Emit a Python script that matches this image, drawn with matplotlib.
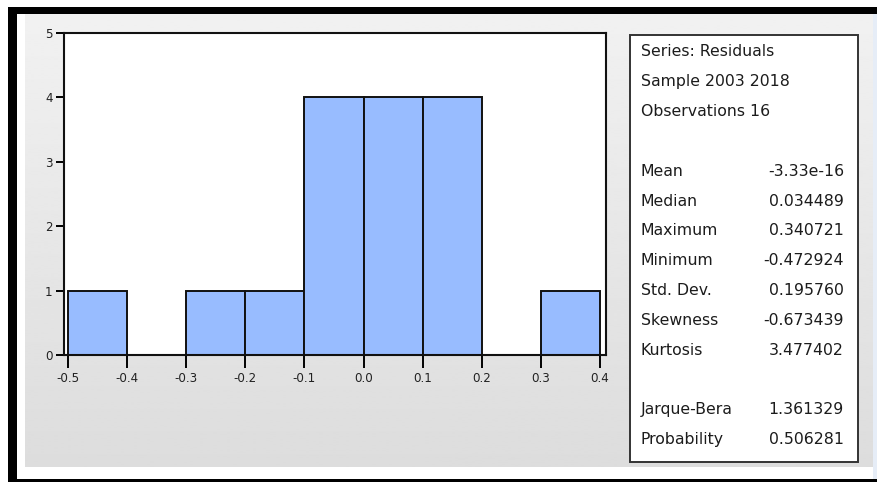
import numpy as np
import matplotlib.pyplot as plt
from matplotlib.patches import Rectangle

# histogram of residuals
bin_edges = [-0.5, -0.4, -0.3, -0.2, -0.1, 0.0, 0.1, 0.2, 0.3, 0.4]
counts = [1, 0, 1, 1, 4, 4, 4, 0, 1]
x_ticks = [-0.5, -0.4, -0.3, -0.2, -0.1, 0.0, 0.1, 0.2, 0.3, 0.4]
x_ticklabels = ['-0.5', '-0.4', '-0.3', '-0.2', '-0.1', '0.0', '0.1', '0.2', '0.3', '0.4']
y_ticks = [0, 1, 2, 3, 4, 5]

# descriptive statistics panel
header_lines = ['Series: Residuals', 'Sample 2003 2018', 'Observations 16']
stat_names = ['Mean', 'Median', 'Maximum', 'Minimum', 'Std. Dev.', 'Skewness', 'Kurtosis']
stat_values = ['-3.33e-16', '0.034489', '0.340721', '-0.472924', '0.195760', '-0.673439', '3.477402']
test_names = ['Jarque-Bera', 'Probability']
test_values = ['1.361329', '0.506281']

W, H = 877, 482
plt.rcParams['font.family'] = ['DejaVu Sans']

fig = plt.figure(figsize=(W / 100, H / 100), dpi=100, facecolor='white')

# frame and grey panel, drawn in pixel units
bg = fig.add_axes([0, 0, 1, 1])
bg.axis('off')
bg.add_patch(Rectangle((8, 7), W - 8, H - 7, color='black', lw=0, zorder=1))
bg.add_patch(Rectangle((17, 14), W - 17, 465, color='white', lw=0, zorder=1))
bg.add_patch(Rectangle((873, 14), 4, 465, color='#e6edf7', lw=0, zorder=1))
grad = np.linspace(0.945, 0.865, 256).reshape(-1, 1)
bg.imshow(grad, cmap='gray', vmin=0, vmax=1, aspect='auto',
          extent=(25, 873, 467, 14), interpolation='bilinear', zorder=2)
bg.set_xlim(0, W)
bg.set_ylim(H, 0)

# stats box
bg.add_patch(Rectangle((630, 35), 228, 427, facecolor='white',
                       edgecolor='#333333', lw=1.4, zorder=3))
tkw = dict(fontsize=11.3, color='#1c1c1c', va='center', zorder=4)
y = 52
for line in header_lines:
    bg.text(641, y, line, ha='left', **tkw)
    y += 29.8
y += 29.8
for name, val in zip(stat_names, stat_values):
    bg.text(641, y, name, ha='left', **tkw)
    bg.text(844, y, val, ha='right', **tkw)
    y += 29.8
y += 29.8
for name, val in zip(test_names, test_values):
    bg.text(641, y, name, ha='left', **tkw)
    bg.text(844, y, val, ha='right', **tkw)
    y += 29.8

# histogram
ax = fig.add_axes([64 / W, (H - 355) / H, (606 - 64) / W, (355 - 33) / H])
ax.set_facecolor('white')
ax.bar(bin_edges[:-1], counts, width=np.diff(bin_edges), align='edge',
       color='#98bcff', edgecolor='#111111', linewidth=1.4)
ax.set_xlim(-0.5068, 0.4101)
ax.set_ylim(0, 5)
ax.set_xticks(x_ticks)
ax.set_xticklabels(x_ticklabels)
ax.set_yticks(y_ticks)
ax.tick_params(axis='both', direction='out', width=1.4,
               labelsize=8.6, labelcolor='#222222')
ax.tick_params(axis='x', length=9.5, pad=2.5)
ax.tick_params(axis='y', length=5.8, pad=2.5)
for s in ax.spines.values():
    s.set_linewidth(1.5)
    s.set_color('#111111')

fig.savefig('out.png', dpi=100)
